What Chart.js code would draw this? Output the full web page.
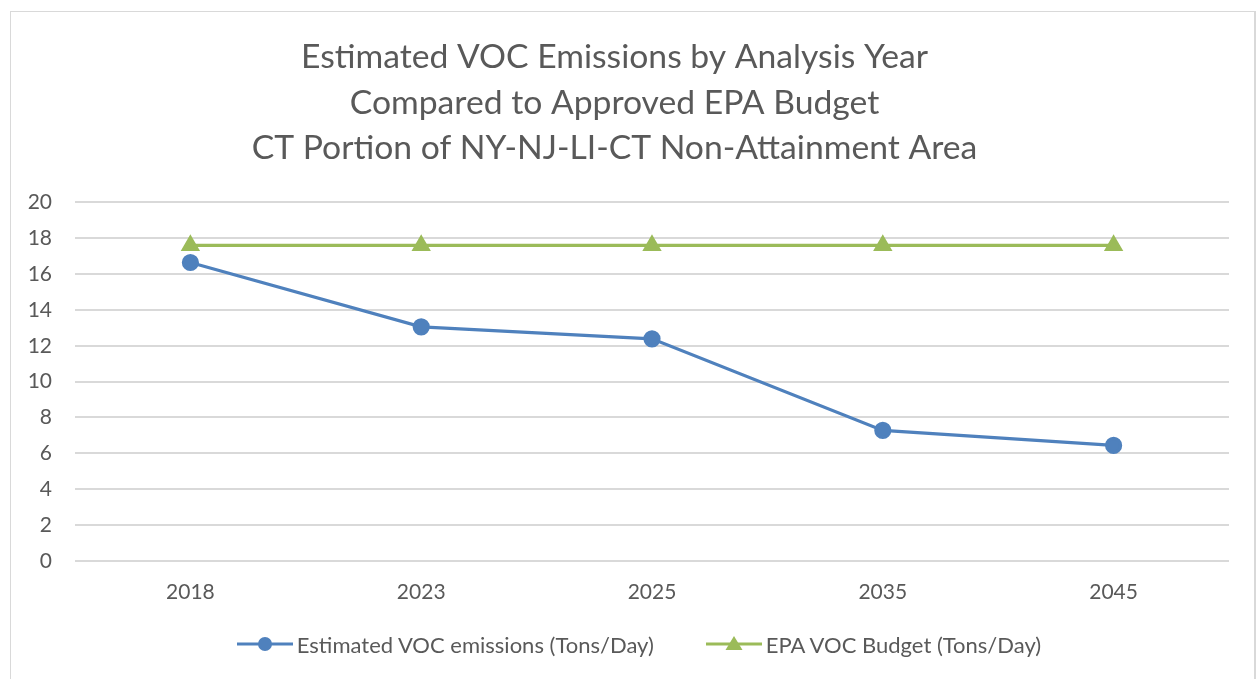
<!DOCTYPE html>
<html><head><meta charset="utf-8">
<script src="https://cdn.jsdelivr.net/npm/chart.js@4/dist/chart.umd.min.js"></script>
<style>
html,body{margin:0;padding:0;background:#fff;}
#wrap{position:relative;width:1260px;height:679px;overflow:hidden;}
#frame{position:absolute;left:10px;top:11px;width:1246px;height:700px;border:1px solid #d9d9d9;border-right:2px solid #d9d9d9;box-sizing:border-box;}
canvas{position:absolute;left:0;top:0;}
#legend{position:absolute;left:0;top:630px;width:1260px;height:28px;display:flex;justify-content:center;align-items:center;gap:52px;
  font-family:Lato,'Open Sans',sans-serif;font-size:22px;color:#595959;padding-left:18px;box-sizing:border-box;}
.item{display:flex;align-items:center;gap:4px;white-space:nowrap;}
</style></head>
<body><div id="wrap"><div id="frame"></div><canvas id="c" width="1260" height="679"></canvas><div id="legend"></div></div>
<script>
const categories = ["2018","2023","2025","2035","2045"];
const estimatedVOC = [16.65, 13.06, 12.39, 7.28, 6.44];
const epaBudget = [17.6, 17.6, 17.6, 17.6, 17.6];
const seriesNames = ["Estimated VOC emissions (Tons/Day)", "EPA VOC Budget (Tons/Day)"];
const titleLines = ["Estimated VOC Emissions by Analysis Year","Compared to Approved EPA Budget","CT Portion of NY-NJ-LI-CT Non-Attainment Area"];

const BLUE = "#4f81bd", GREEN = "#9bbb59", TXT = "#595959", GRID = "#d9d9d9";
const FONT = "Lato, 'Open Sans', sans-serif";
const markerStyles = ['circle', 'triangle'];

const chart = new Chart(document.getElementById('c'), {
  type: 'line',
  data: {
    labels: categories,
    datasets: [
      {label: seriesNames[0], data: estimatedVOC, borderColor: BLUE, backgroundColor: BLUE,
       borderWidth: 3.2, pointStyle: markerStyles[0], pointRadius: 7, pointHoverRadius: 7, tension: 0},
      {label: seriesNames[1], data: epaBudget, borderColor: GREEN, backgroundColor: GREEN,
       borderWidth: 3.2, pointStyle: markerStyles[1], pointRadius: 8, pointHoverRadius: 8, tension: 0}
    ]
  },
  options: {
    responsive: false, animation: false, devicePixelRatio: 1,
    layout: {padding: {left: 0, right: 31, top: 24, bottom: 55}},
    plugins: {
      title: {display: true, text: titleLines, color: TXT,
        font: {family: FONT, size: 33.7, weight: 'normal', lineHeight: 1.34},
        padding: {top: 11, bottom: 32}},
      legend: {display: false},
      tooltip: {enabled: false}
    },
    scales: {
      x: {offset: true, grid: {display: false, drawTicks: false}, border: {display: false},
        ticks: {color: TXT, font: {family: FONT, size: 21}, padding: 19}},
      y: {min: 0, max: 20, grid: {color: GRID, lineWidth: 2, drawTicks: false}, border: {display: false},
        ticks: {stepSize: 2, color: TXT, font: {family: FONT, size: 21}, padding: 23},
        afterFit: (s) => { s.width = 75; }}
    }
  }
});

// HTML legend built from the chart's datasets
const lg = document.getElementById('legend');
chart.data.datasets.forEach((d, i) => {
  const it = document.createElement('div'); it.className = 'item';
  const marker = markerStyles[i] === 'circle'
    ? `<circle cx="28" cy="9" r="7" fill="${d.borderColor}"/>`
    : `<polygon points="28,1 36.5,15 19.5,15" fill="${d.borderColor}"/>`;
  it.innerHTML = `<svg width="56" height="18" viewBox="0 0 56 18"><line x1="0" y1="9" x2="56" y2="9" stroke="${d.borderColor}" stroke-width="3"/>${marker}</svg><span>${d.label}</span>`;
  lg.appendChild(it);
});
</script></body></html>
